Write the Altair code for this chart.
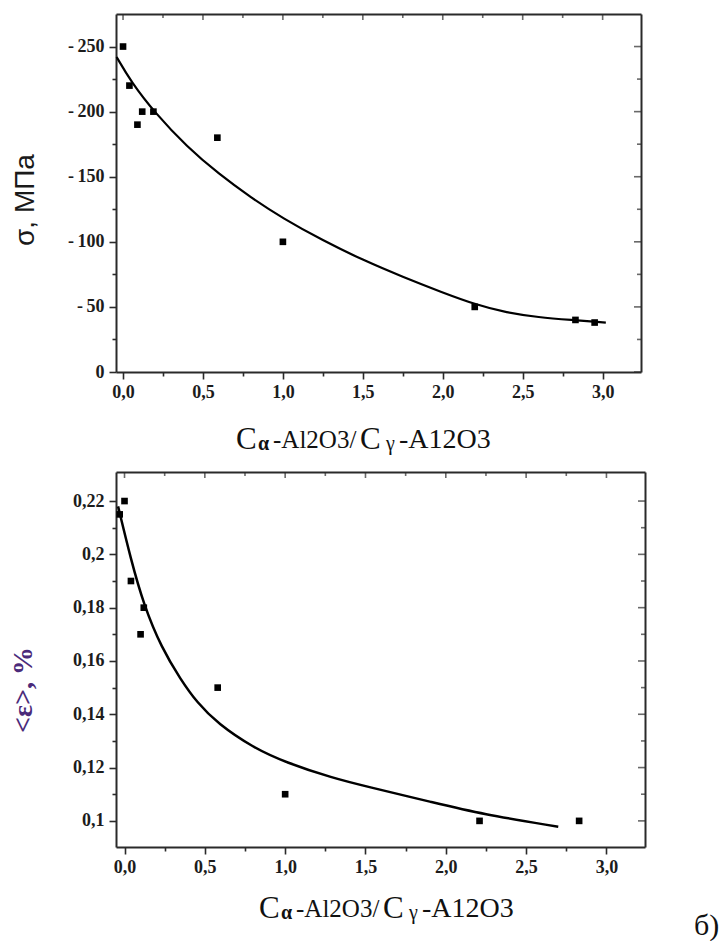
import altair as alt
import pandas as pd

# ---------------- data ----------------
# top panel: stress sigma, MPa
top_pts_x = [0.0, 0.04, 0.09, 0.12, 0.19, 0.59, 1.0, 2.2, 2.83, 2.95]
top_pts_y = [-250, -220, -190, -200, -200, -180, -100, -50, -40, -38]
top_fit_x = [-0.04, 0.05, 0.2, 0.4, 0.6, 0.8, 1.0, 1.25, 1.5, 1.75, 2.0, 2.2, 2.4, 2.6, 2.8, 3.02]
top_fit_y = [-242, -223, -199, -173, -152, -134, -118, -101, -86, -73, -61, -52, -45.5, -42, -40, -38]

# bottom panel: microstrain <eps>, %
bot_pts_x = [-0.03, 0.0, 0.04, 0.10, 0.12, 0.58, 1.0, 2.21, 2.83]
bot_pts_y = [0.215, 0.22, 0.19, 0.17, 0.18, 0.15, 0.11, 0.10, 0.10]
bot_fit_x = [-0.04, 0.04, 0.12, 0.23, 0.35, 0.45, 0.58, 0.8, 1.0, 1.3, 1.5, 1.93, 2.22, 2.7]
bot_fit_y = [0.218, 0.198, 0.181, 0.165, 0.153, 0.1445, 0.1365, 0.1275, 0.122, 0.116, 0.113, 0.1068, 0.1026, 0.0978]

# axis tick values (major + minor)
x_major = [0.0, 0.5, 1.0, 1.5, 2.0, 2.5, 3.0]
x_minor = [0.25, 0.75, 1.25, 1.75, 2.25, 2.75]
top_y_major = [0, -50, -100, -150, -200, -250]
top_y_minor = [-25, -75, -125, -175, -225]
bot_y_major = [0.10, 0.12, 0.14, 0.16, 0.18, 0.20, 0.22]
bot_y_minor = [0.11, 0.13, 0.15, 0.17, 0.19, 0.21]

top_y_title = "σ, МПа"
bot_y_title = "<ε>, %"
x_title_parts = ["C", "α", "-Al2O3/", "C", "γ", "-A12O3"]
panel_tag = "б)"

x_ticks = sorted(x_major + x_minor)
top_y_ticks = sorted(top_y_major + top_y_minor)
bot_y_ticks = sorted(bot_y_major + bot_y_minor)

# ---------------- layout / style ----------------
TW, TH = 525, 358
BW, BH = 529, 375
SERIF = "Liberation Serif"
INK = "#2a2a2a"
LBL = dict(labelFont=SERIF, labelFontSize=18, labelFontWeight="bold", labelColor="#1c1c1c",
           labelOverlap=False, labelFlush=False)
FRAME = dict(domainColor=INK, domainWidth=2, tickColor=INK, tickWidth=1.6, grid=False)

X_MAJOR = "round(datum.value*4) % 2 == 0"
X_LABEL = f"{X_MAJOR} ? replace(format(datum.value, '.1f'), '.', ',') : ''"
TY_MAJOR = "round(datum.value) % 50 == 0"
TY_LABEL = f"datum.value == 0 ? '0' : ({TY_MAJOR} ? '-\u2009' + format(abs(datum.value), 'd') : '')"
BY_MAJOR = "round(datum.value*100) % 2 == 0"
BY_LABEL = f"{BY_MAJOR} ? replace(format(datum.value, '.2~f'), '.', ',') : ''"


def tick_size(test, major, minor):
    return {"condition": {"test": test, "value": major}, "value": minor}


def main_x_axis():
    return alt.Axis(values=x_ticks, labelExpr=X_LABEL, title=None, orient="bottom",
                    tickSize=tick_size(X_MAJOR, 7, 4), labelPadding=4, **LBL, **FRAME)


def main_y_axis(vals, expr, test):
    return alt.Axis(values=vals, labelExpr=expr, title=None, orient="left",
                    tickSize=tick_size(test, 7, 4), labelPadding=5, **LBL, **FRAME)


# plain lines for the top and right edges of the frame
TOP_EDGE = alt.Axis(orient="top", labels=False, ticks=False, title=None, **FRAME)
RIGHT_EDGE = alt.Axis(orient="right", labels=False, ticks=False, title=None, **FRAME)

one = alt.Data(values=[{}])


def text_layer(txt, x, y, size, font=SERIF, weight="normal", angle=0, align="left",
               baseline="alphabetic", color="#111111"):
    return alt.Chart(one).mark_text(
        text=txt, font=font, fontSize=size, fontWeight=weight, angle=angle,
        align=align, baseline=baseline, color=color
    ).encode(x=alt.value(x), y=alt.value(y))


def x_title_layers(x0, base):
    offs = [0, 22, 37, 124, 150, 163]
    sizes = [31, 20, 25, 31, 20, 28]
    weights = ["normal", "bold", "normal", "normal", "normal", "normal"]
    dys = [1, 2, 0, 1, 2, 0]
    return [text_layer(t, x0 + o, base + d, s, weight=w)
            for t, o, s, w, d in zip(x_title_parts, offs, sizes, weights, dys)]


def inner_ticks(xs, xscale, ys, yscale, w):
    """Inward ticks on the top and right edges of the frame."""
    out = []
    for vals, size in ((xs[0], 6), (xs[1], 4)):
        out.append(alt.Chart(pd.DataFrame({"v": vals})).mark_tick(
            orient="vertical", color=INK, thickness=1.6, size=size
        ).encode(x=alt.X("v:Q", scale=xscale, axis=None), y=alt.value(size / 2)))
    for vals, size in ((ys[0], 7), (ys[1], 4)):
        out.append(alt.Chart(pd.DataFrame({"v": vals})).mark_tick(
            orient="horizontal", color=INK, thickness=1.6, size=size
        ).encode(y=alt.Y("v:Q", scale=yscale, axis=None), x=alt.value(w - size / 2)))
    return out


# ---------------- top panel ----------------
top_fit = pd.DataFrame({"x": top_fit_x, "y": top_fit_y})
top_pts = pd.DataFrame({"x": top_pts_x, "y": top_pts_y})
tx = alt.Scale(domain=[-0.044, 3.24], nice=False, zero=False)
ty = alt.Scale(domain=[-275, 0], reverse=True, nice=False, zero=False)

top_line = alt.Chart(top_fit).mark_line(color="black", strokeWidth=2.2, interpolate="basis").encode(
    x=alt.X("x:Q", scale=tx, axis=main_x_axis()),
    y=alt.Y("y:Q", scale=ty, axis=main_y_axis(top_y_ticks, TY_LABEL, TY_MAJOR)),
)
top_points = alt.Chart(top_pts).mark_square(color="black", size=44, opacity=1).encode(
    x=alt.X("x:Q", scale=tx, axis=TOP_EDGE),
    y=alt.Y("y:Q", scale=ty, axis=RIGHT_EDGE),
)
top = alt.layer(
    top_line, top_points,
    *inner_ticks((x_major, x_minor), tx, (top_y_major, top_y_minor), ty, TW),
    *x_title_layers(120, 434),
    text_layer(top_y_title, -90, 186, 28, font="Liberation Sans", angle=270,
               align="center", baseline="middle", color="#1a1a1a"),
).resolve_axis(x="independent", y="independent").properties(width=TW, height=TH)

# ---------------- bottom panel ----------------
bot_fit = pd.DataFrame({"x": bot_fit_x, "y": bot_fit_y})
bot_pts = pd.DataFrame({"x": bot_pts_x, "y": bot_pts_y})
bx = alt.Scale(domain=[-0.053, 3.24], nice=False, zero=False)
by = alt.Scale(domain=[0.0902, 0.2309], nice=False, zero=False)

bot_line = alt.Chart(bot_fit).mark_line(color="black", strokeWidth=2.5, interpolate="basis").encode(
    x=alt.X("x:Q", scale=bx, axis=main_x_axis()),
    y=alt.Y("y:Q", scale=by, axis=main_y_axis(bot_y_ticks, BY_LABEL, BY_MAJOR)),
)
bot_points = alt.Chart(bot_pts).mark_square(color="black", size=44, opacity=1).encode(
    x=alt.X("x:Q", scale=bx, axis=TOP_EDGE),
    y=alt.Y("y:Q", scale=by, axis=RIGHT_EDGE),
)
bottom = alt.layer(
    bot_line, bot_points,
    *inner_ticks((x_major, x_minor), bx, (bot_y_major, bot_y_minor), by, BW),
    *x_title_layers(143, 445),
    text_layer(bot_y_title, -92, 218, 28, weight="bold", angle=270, align="center",
               baseline="middle", color="#4b2a7a"),
    text_layer(panel_tag, 578, 463, 30, color="#111111"),
).resolve_axis(x="independent", y="independent").properties(width=BW, height=BH)

chart = alt.vconcat(top, bottom, spacing=100, bounds="flush").properties(
    padding={"left": 10, "top": 14, "right": 5, "bottom": 5}
).configure_view(strokeOpacity=0)

chart.save("out.html", embed_options={"renderer": "svg", "actions": False})
